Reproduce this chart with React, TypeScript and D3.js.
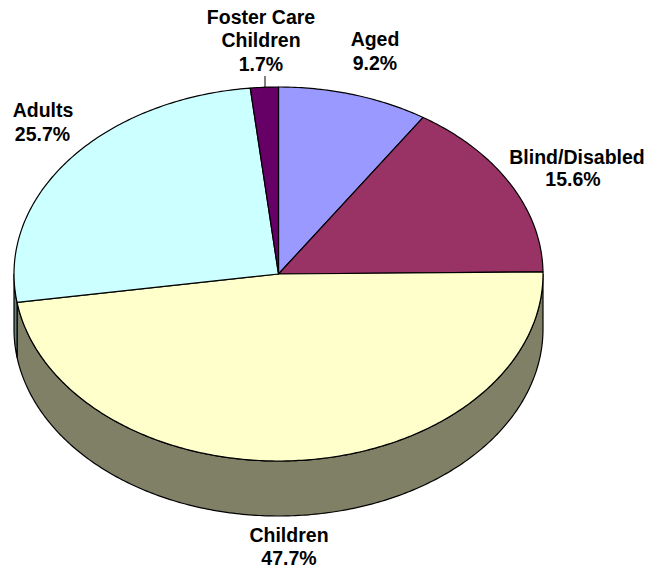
import React from "react";
import * as d3 from "d3";

const categories = ["Aged", "Blind/Disabled", "Children", "Adults", "Foster Care Children"];
const values = [9.2, 15.6, 47.7, 25.7, 1.7];
const topColors = ["#9999ff", "#993366", "#ffffcc", "#ccffff", "#660066"];
const sideColors = ["#4d4d80", "#4d1a33", "#808066", "#668080", "#330033"];
const labelLines = [["Aged", "9.2%"], ["Blind/Disabled", "15.6%"], ["Children", "47.7%"], ["Adults", "25.7%"], ["Foster Care", "Children", "1.7%"]];
const labelX = [[375, 375], [577, 573], [289, 289], [43, 42.5], [261, 261, 261]];
const labelY = [[46, 69.5], [163.5, 185.5], [541.5, 565], [117, 141], [23.5, 46.5, 70.5]];

const W = 647, H = 569;
const cx = 278.5, cy = 274, rx = 264.5, ry = 187, depth = 55;

const pt = (a: number, dy = 0): [number, number] => [cx + rx * Math.sin(a), cy - ry * Math.cos(a) + dy];

export default function App() {
  const pie = d3.pie<number>().sort(null).startAngle(0).endAngle(2 * Math.PI);
  const arcs = pie(values);
  const line = d3.line<[number, number]>();

  const topPath = (s: number, e: number) => {
    const n = Math.max(2, Math.ceil((e - s) * 80));
    const pts = d3.range(n + 1).map((i) => pt(s + ((e - s) * i) / n));
    return line([[cx, cy], ...pts])! + "Z";
  };
  const sidePath = (s: number, e: number) => {
    const a = Math.max(s, Math.PI / 2), b = Math.min(e, (3 * Math.PI) / 2);
    if (b <= a) return null;
    const n = Math.max(2, Math.ceil((b - a) * 80));
    const t = d3.range(n + 1).map((i) => a + ((b - a) * i) / n);
    return line([...t.map((x) => pt(x)), ...t.slice().reverse().map((x) => pt(x, depth))])! + "Z";
  };

  return (
    <svg width={W} height={H} style={{ position: "absolute", left: 0, top: 0, background: "#fff" }}>
      {arcs.map((d, i) => {
        const p = sidePath(d.startAngle, d.endAngle);
        return p ? <path key={categories[i]} d={p} fill={sideColors[i]} stroke="#000" strokeWidth={1.2} strokeLinejoin="round" /> : null;
      })}
      {arcs.map((d, i) => (
        <path key={categories[i]} d={topPath(d.startAngle, d.endAngle)} fill={topColors[i]} stroke="#000" strokeWidth={1.2} strokeLinejoin="round" />
      ))}
      <line x1={265} y1={76} x2={265} y2={88} stroke="#000" strokeWidth={1} />
      {labelLines.map((lines, i) => (
        <text key={i} textAnchor="middle" fontFamily="Liberation Sans, Arial, sans-serif" fontWeight="bold" fontSize={19.5} fill="#000">
          {lines.map((l, j) => (
            <tspan key={j} x={labelX[i][j]} y={labelY[i][j]}>{l}</tspan>
          ))}
        </text>
      ))}
    </svg>
  );
}
